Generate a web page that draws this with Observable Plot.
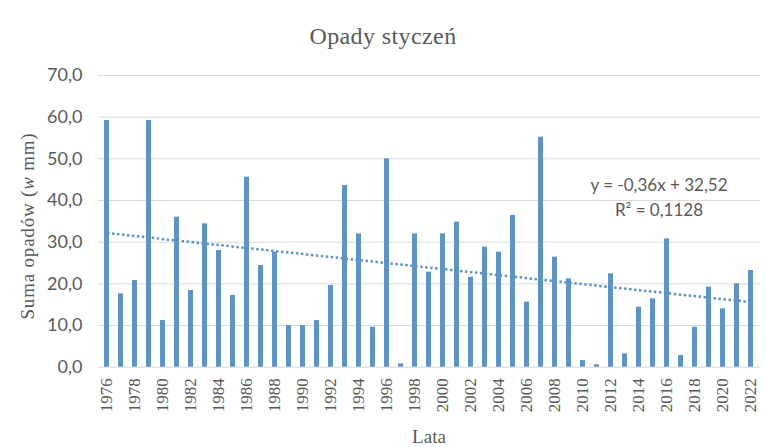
<!DOCTYPE html>
<html>
<head>
<meta charset="utf-8">
<script src="https://cdn.jsdelivr.net/npm/d3@7"></script>
<script src="https://cdn.jsdelivr.net/npm/@observablehq/plot@0.6"></script>
<style>
  html, body { margin: 0; padding: 0; background: #fff; }
  #wrap { width: 766px; height: 447px; position: relative; overflow: hidden; }
  #title { height: 60px; line-height: 72px; text-align: center; font-family: "Liberation Serif", serif; font-size: 24px; letter-spacing: 0.4px; color: #595959; }
</style>
</head>
<body>
<div id="wrap">
  <div id="title">Opady styczeń</div>
  <div id="chart"></div>
</div>
<script>
const years = ["1976","1977","1978","1979","1980","1981","1982","1983","1984","1985","1986","1987","1988","1989","1990","1991","1992","1993","1994","1995","1996","1997","1998","1999","2000","2001","2002","2003","2004","2005","2006","2007","2008","2009","2010","2011","2012","2013","2014","2015","2016","2017","2018","2019","2020","2021","2022"];
const precip = [59.2,17.6,20.8,59.2,11.2,36.0,18.4,34.4,28.0,17.2,45.6,24.4,27.6,10.0,10.0,11.2,19.6,43.6,32.0,9.6,50.0,0.8,32.0,22.8,32.0,34.8,21.6,28.8,27.6,36.4,15.6,55.2,26.4,21.2,1.6,0.6,22.4,3.2,14.4,16.4,30.8,2.8,9.6,19.2,14.0,20.0,23.2];
const yTicks = [0,10,20,30,40,50,60,70];
const xTickLabels = years.filter((d, i) => i % 2 === 0);
const trendYears = ["1976","2022"];
const trendValues = [32.2, 15.6];
const equationLines = ["y = -0,36x + 32,52", "R² = 0,1128"];
const equationY = [43.6, 37.6];

const data = years.map((year, i) => ({year, value: precip[i]}));
const trend = trendYears.map((year, i) => ({year, value: trendValues[i]}));
const eq = equationLines.map((text, i) => ({text, value: equationY[i], year: "2016"}));

const color = "#5f93c4";
const gray = "#595959";

const plot = Plot.plot({
  width: 766,
  height: 387,
  marginLeft: 98,
  marginRight: 6,
  marginTop: 15,
  marginBottom: 80.3,
  x: {type: "band", domain: years, paddingInner: 0.64, paddingOuter: 0.32},
  y: {domain: [0, 70]},
  style: {fontFamily: "Lato, sans-serif", color: gray, background: "#fff"},
  marks: [
    Plot.gridY(yTicks, {stroke: "#d9d9d9", strokeOpacity: 1, strokeWidth: 1}),
    Plot.barY(data, {x: "year", y: "value", fill: color}),
    Plot.line(trend, {x: "year", y: "value", stroke: color, strokeWidth: 2.5, strokeDasharray: "2.5,2.5", strokeLinecap: "butt"}),
    Plot.axisY(yTicks, {tickSize: 0, tickPadding: 16, fontSize: 18, fill: gray, fontFamily: "Lato, sans-serif", tickFormat: d => d.toFixed(1).replace(".", ","), label: null}),
    Plot.axisX(xTickLabels, {tickSize: 0, tickPadding: 11, tickRotate: -90, fontSize: 17, fill: gray, fontFamily: "Liberation Serif, serif", label: null}),
    Plot.text(eq, {x: "year", y: "value", text: "text", dx: -8, fontSize: 17, fill: gray, fontFamily: "Lato, sans-serif"})
  ]
});
document.getElementById("chart").appendChild(plot);

const svg = d3.select(plot);
const yl = svg.append("text")
  .attr("transform", "translate(34,166) rotate(-90)")
  .attr("text-anchor", "middle")
  .attr("font-family", "Liberation Serif, serif")
  .attr("font-size", 19)
  .attr("letter-spacing", 0.8)
  .attr("fill", gray);
yl.append("tspan").text("Suma opadów (");
yl.append("tspan").attr("font-style", "italic").text("w");
yl.append("tspan").text(" mm)");

svg.append("text")
  .attr("x", 429)
  .attr("y", 383)
  .attr("text-anchor", "middle")
  .attr("font-family", "Liberation Serif, serif")
  .attr("font-size", 19)
  .attr("fill", gray)
  .text("Lata");
</script>
</body>
</html>
